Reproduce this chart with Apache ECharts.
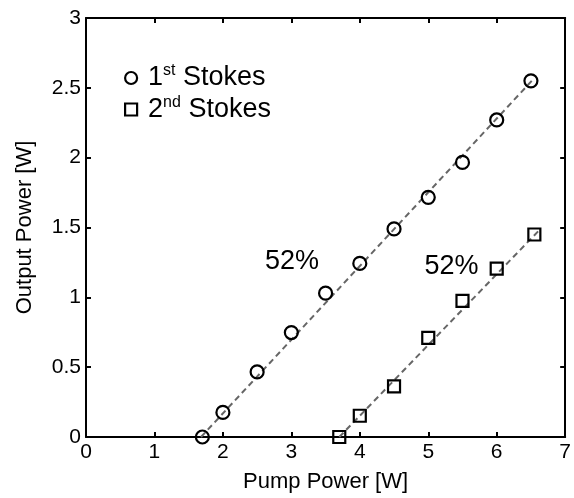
<!DOCTYPE html>
<html>
<head>
<meta charset="utf-8">
<script src="https://cdn.jsdelivr.net/npm/echarts@6/dist/echarts.min.js"></script>
<style>
html,body{margin:0;padding:0;background:#fff;}
#main{width:574px;height:498px;}
</style>
</head>
<body>
<div id="main"></div>
<script>
// measured points
var stokes1X = [1.7, 2, 2.5, 3, 3.5, 4, 4.5, 5, 5.5, 6, 6.5];
var stokes1Y = [0, 0.176, 0.466, 0.748, 1.03, 1.243, 1.49, 1.716, 1.966, 2.27, 2.55];
var stokes2X = [3.7, 4, 4.5, 5, 5.5, 6, 6.55];
var stokes2Y = [0, 0.152, 0.362, 0.71, 0.974, 1.205, 1.45];
// linear fits (end points)
var fit1X = [1.68, 6.55];
var fit1Y = [0, 2.57];
var fit2X = [3.7, 6.62];
var fit2Y = [0, 1.48];
// slope efficiency labels
var annotX = [3.01, 5.34];
var annotY = [1.257, 1.22];
var annotText = ['52%', '52%'];
var seriesNames = ['1st Stokes', '2nd Stokes'];

var FONT = 'Liberation Sans, Arial, sans-serif';

function pairs(xs, ys) {
	var out = [];
	for (var i = 0; i < xs.length; i++) {
		out.push([xs[i], ys[i]]);
	}
	return out;
}

var annotData = [];
for (var i = 0; i < annotX.length; i++) {
	annotData.push([annotX[i], annotY[i], annotText[i]]);
}

var hollow = { color: 'rgba(0,0,0,0)', borderColor: '#000', borderWidth: 2.2, opacity: 1 };
var fitStyle = { color: '#666', width: 2, type: [6, 4] };

function boxAxis(pos, isX) {
	var ax = {
		type: 'value',
		position: pos,
		min: 0,
		max: isX ? 7 : 3,
		interval: isX ? 1 : 0.5,
		splitLine: { show: false },
		axisLine: { show: true, onZero: false, lineStyle: { color: '#000', width: 2 } },
		axisTick: { show: true, inside: true, length: 5, lineStyle: { color: '#000', width: 2 } },
		axisLabel: { show: false }
	};
	return ax;
}

var xBottom = boxAxis('bottom', true);
xBottom.axisLabel = { show: true, color: '#000', fontFamily: FONT, fontSize: 21, margin: 5 };
xBottom.name = 'Pump Power [W]';
xBottom.nameLocation = 'middle';
xBottom.nameGap = 34;
xBottom.nameTextStyle = { color: '#000', fontFamily: FONT, fontSize: 22 };

var yLeft = boxAxis('left', false);
yLeft.axisLabel = { show: true, color: '#000', fontFamily: FONT, fontSize: 21, margin: 5 };
yLeft.name = 'Output Power [W]';
yLeft.nameLocation = 'middle';
yLeft.nameGap = 50;
yLeft.nameTextStyle = { color: '#000', fontFamily: FONT, fontSize: 22 };

var myChart = echarts.init(document.getElementById('main'));
var option = {
	backgroundColor: '#fff',
	animation: false,
	grid: { left: 86, right: 2, top: 18, bottom: 60 },
	xAxis: [xBottom, boxAxis('top', true)],
	yAxis: [yLeft, boxAxis('right', false)],
	legend: {
		orient: 'vertical',
		left: 119,
		top: 58,
		itemGap: 3,
		itemWidth: 12,
		itemHeight: 12,
		data: [
			{ name: seriesNames[0], icon: 'circle' },
			{ name: seriesNames[1], icon: 'rect' }
		],
		itemStyle: hollow,
		formatter: function (name) {
			if (name === seriesNames[0]) {
				return '{b|1}{s|st}{a| Stokes}';
			}
			return '{b|2}{s|nd}{a| Stokes}';
		},
		textStyle: {
			color: '#000',
			fontFamily: FONT,
			rich: {
				a: { fontSize: 27, fontFamily: FONT, color: '#000', lineHeight: 30 },
				b: { fontSize: 27, fontFamily: FONT, color: '#000', lineHeight: 30, padding: [0, 0, 0, 6] },
				s: { fontSize: 16, fontFamily: FONT, color: '#000', verticalAlign: 'top', lineHeight: 30, padding: [0, 0, 10, 0] }
			}
		}
	},
	series: [
		{
			name: 'fit1',
			type: 'line',
			data: pairs(fit1X, fit1Y),
			symbol: 'none',
			lineStyle: fitStyle,
			z: 1
		},
		{
			name: 'fit2',
			type: 'line',
			data: pairs(fit2X, fit2Y),
			symbol: 'none',
			lineStyle: fitStyle,
			z: 1
		},
		{
			name: seriesNames[0],
			type: 'scatter',
			data: pairs(stokes1X, stokes1Y),
			symbol: 'circle',
			symbolSize: 13,
			itemStyle: hollow,
			z: 3
		},
		{
			name: seriesNames[1],
			type: 'scatter',
			data: pairs(stokes2X, stokes2Y),
			symbol: 'rect',
			symbolSize: 12,
			itemStyle: hollow,
			z: 3
		},
		{
			name: 'annot',
			type: 'scatter',
			data: annotData,
			symbolSize: 0,
			silent: true,
			itemStyle: { opacity: 1 },
			label: {
				show: true,
				position: 'inside',
				formatter: function (p) { return p.value[2]; },
				color: '#000',
				textBorderWidth: 0,
				fontFamily: FONT,
				fontSize: 27
			}
		}
	]
};
myChart.setOption(option);
</script>
</body>
</html>
